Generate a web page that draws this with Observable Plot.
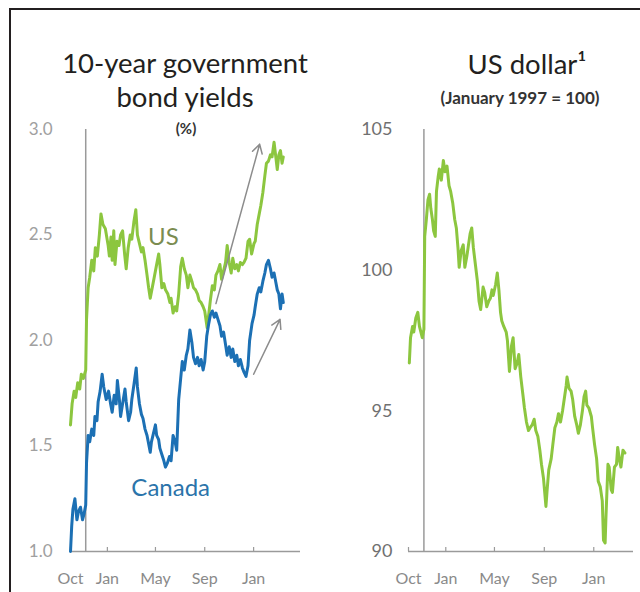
<!DOCTYPE html>
<html><head><meta charset="utf-8">
<script src="https://cdn.jsdelivr.net/npm/d3@7"></script>
<script src="https://cdn.jsdelivr.net/npm/@observablehq/plot@0.6"></script>
<style>
html,body{margin:0;padding:0;background:#fff;}
body{width:640px;height:592px;position:relative;overflow:hidden;font-family:Lato,sans-serif;}
.abs{position:absolute;}
.t{font-size:27.5px;line-height:26px;height:26px;color:#231f20;text-align:center;white-space:nowrap;}
</style></head><body>
<div class="abs" style="left:9px;top:8px;width:720px;height:720px;border-top:2px solid #231f20;border-left:2px solid #231f20;"></div>
<div class="abs t" style="left:0;width:370px;top:50.4px">10-year government</div>
<div class="abs t" style="left:0;width:370px;top:83.6px">bond yields</div>
<div class="abs" style="left:0;width:372px;top:120.4px;font-size:15px;line-height:16px;font-weight:700;text-align:center;color:#333;">(%)</div>
<div class="abs t" style="left:327px;width:400px;top:51.4px">US dollar¹</div>
<div class="abs" style="left:320px;width:400px;top:88.6px;font-size:17px;line-height:18px;font-weight:700;text-align:center;color:#333;white-space:nowrap;">(January 1997 = 100)</div>
<div id="left" class="abs" style="left:0;top:110px"></div>
<div id="right" class="abs" style="left:320px;top:110px"></div>
<script>
// ---- data ----
const usYield = [
["2016-10-01",1.60],["2016-10-05",1.70],["2016-10-10",1.76],["2016-10-14",1.73],["2016-10-19",1.80],
["2016-10-24",1.77],["2016-10-28",1.84],["2016-11-02",1.82],["2016-11-08",1.86],["2016-11-10",2.10],
["2016-11-14",2.25],["2016-11-18",2.30],["2016-11-23",2.38],["2016-11-28",2.33],["2016-12-02",2.44],
["2016-12-07",2.40],["2016-12-12",2.50],["2016-12-16",2.60],["2016-12-21",2.55],["2016-12-27",2.53],
["2017-01-03",2.45],["2017-01-06",2.40],["2017-01-10",2.49],["2017-01-13",2.38],["2017-01-17",2.52],
["2017-01-20",2.36],["2017-01-25",2.47],["2017-01-30",2.45],["2017-02-03",2.50],["2017-02-08",2.52],
["2017-02-13",2.41],["2017-02-17",2.34],["2017-02-22",2.44],["2017-02-27",2.50],["2017-03-03",2.48],
["2017-03-08",2.56],["2017-03-13",2.62],["2017-03-17",2.50],["2017-03-22",2.46],["2017-03-27",2.42],
["2017-03-31",2.44],["2017-04-05",2.38],["2017-04-10",2.31],["2017-04-14",2.25],["2017-04-18",2.20],
["2017-04-24",2.26],["2017-04-28",2.30],["2017-05-03",2.35],["2017-05-09",2.41],["2017-05-12",2.36],
["2017-05-17",2.25],["2017-05-22",2.27],["2017-05-26",2.24],["2017-06-01",2.22],["2017-06-06",2.18],
["2017-06-09",2.20],["2017-06-14",2.13],["2017-06-19",2.16],["2017-06-23",2.14],["2017-06-28",2.22],
["2017-07-03",2.35],["2017-07-07",2.39],["2017-07-12",2.34],["2017-07-17",2.31],["2017-07-21",2.25],
["2017-07-26",2.31],["2017-07-31",2.28],["2017-08-04",2.25],["2017-08-09",2.24],["2017-08-14",2.22],
["2017-08-18",2.19],["2017-08-23",2.18],["2017-08-28",2.16],["2017-09-01",2.14],["2017-09-07",2.06],
["2017-09-12",2.14],["2017-09-15",2.19],["2017-09-20",2.26],["2017-09-25",2.24],["2017-09-29",2.31],
["2017-10-04",2.33],["2017-10-09",2.36],["2017-10-13",2.29],["2017-10-18",2.33],["2017-10-23",2.37],
["2017-10-27",2.45],["2017-11-01",2.37],["2017-11-06",2.32],["2017-11-10",2.39],["2017-11-15",2.34],
["2017-11-20",2.36],["2017-11-24",2.33],["2017-11-29",2.37],["2017-12-04",2.36],["2017-12-08",2.37],
["2017-12-13",2.39],["2017-12-18",2.47],["2017-12-22",2.48],["2017-12-27",2.41],["2018-01-02",2.46],
["2018-01-05",2.47],["2018-01-10",2.55],["2018-01-15",2.60],["2018-01-19",2.64],["2018-01-24",2.70],
["2018-01-29",2.78],["2018-02-02",2.84],["2018-02-07",2.85],["2018-02-12",2.88],["2018-02-16",2.87],
["2018-02-21",2.94],["2018-02-26",2.86],["2018-03-01",2.81],["2018-03-05",2.88],["2018-03-09",2.90],
["2018-03-13",2.84],["2018-03-16",2.87]
];
const canadaYield = [
["2016-10-01",1.00],["2016-10-04",1.12],["2016-10-07",1.20],["2016-10-12",1.25],["2016-10-17",1.15],
["2016-10-21",1.19],["2016-10-26",1.21],["2016-10-31",1.15],["2016-11-04",1.18],["2016-11-08",1.22],
["2016-11-10",1.42],["2016-11-14",1.55],["2016-11-18",1.52],["2016-11-23",1.58],["2016-11-28",1.55],
["2016-12-01",1.64],["2016-12-06",1.62],["2016-12-09",1.71],["2016-12-14",1.76],["2016-12-19",1.84],
["2016-12-23",1.78],["2016-12-29",1.72],["2017-01-04",1.76],["2017-01-09",1.70],["2017-01-13",1.66],
["2017-01-18",1.74],["2017-01-23",1.70],["2017-01-26",1.81],["2017-01-31",1.72],["2017-02-03",1.64],
["2017-02-08",1.70],["2017-02-14",1.77],["2017-02-17",1.71],["2017-02-23",1.62],["2017-02-28",1.66],
["2017-03-03",1.72],["2017-03-09",1.80],["2017-03-14",1.87],["2017-03-17",1.78],["2017-03-22",1.70],
["2017-03-27",1.65],["2017-03-31",1.63],["2017-04-05",1.58],["2017-04-10",1.55],["2017-04-13",1.52],
["2017-04-18",1.47],["2017-04-21",1.52],["2017-04-26",1.56],["2017-05-01",1.60],["2017-05-04",1.55],
["2017-05-09",1.53],["2017-05-12",1.49],["2017-05-17",1.46],["2017-05-22",1.43],["2017-05-26",1.40],
["2017-05-31",1.42],["2017-06-05",1.45],["2017-06-09",1.43],["2017-06-14",1.55],["2017-06-19",1.52],
["2017-06-23",1.48],["2017-06-28",1.72],["2017-07-03",1.82],["2017-07-07",1.90],["2017-07-12",1.86],
["2017-07-17",1.93],["2017-07-21",1.96],["2017-07-26",2.05],["2017-07-31",1.99],["2017-08-04",1.92],
["2017-08-09",1.89],["2017-08-14",1.92],["2017-08-18",1.88],["2017-08-23",1.91],["2017-08-28",1.86],
["2017-09-01",1.90],["2017-09-06",2.02],["2017-09-11",2.08],["2017-09-15",2.12],["2017-09-20",2.14],
["2017-09-25",2.11],["2017-09-29",2.13],["2017-10-04",2.10],["2017-10-09",2.07],["2017-10-13",2.02],
["2017-10-18",2.04],["2017-10-23",1.98],["2017-10-27",1.93],["2017-11-01",1.97],["2017-11-06",1.92],
["2017-11-10",1.96],["2017-11-15",1.90],["2017-11-20",1.93],["2017-11-24",1.88],["2017-11-29",1.91],
["2017-12-04",1.87],["2017-12-08",1.85],["2017-12-13",1.83],["2017-12-18",1.88],["2017-12-22",2.00],
["2017-12-28",2.08],["2018-01-02",2.12],["2018-01-05",2.16],["2018-01-10",2.22],["2018-01-15",2.25],
["2018-01-19",2.23],["2018-01-24",2.28],["2018-01-29",2.32],["2018-02-02",2.36],["2018-02-07",2.38],
["2018-02-12",2.34],["2018-02-16",2.30],["2018-02-21",2.32],["2018-02-26",2.27],["2018-03-01",2.24],
["2018-03-05",2.22],["2018-03-09",2.15],["2018-03-13",2.22],["2018-03-16",2.18]
];
const usDollar = [
["2016-10-03",96.7],["2016-10-06",97.6],["2016-10-11",98.0],["2016-10-14",97.8],["2016-10-19",98.3],
["2016-10-24",98.5],["2016-10-28",98.0],["2016-11-04",97.6],["2016-11-08",97.9],["2016-11-10",101.2],
["2016-11-14",101.8],["2016-11-18",102.5],["2016-11-22",102.7],["2016-11-25",102.2],["2016-11-29",101.8],
["2016-12-02",101.4],["2016-12-06",101.2],["2016-12-09",102.8],["2016-12-13",103.3],["2016-12-16",103.6],
["2016-12-21",103.2],["2016-12-26",103.9],["2016-12-30",103.5],["2017-01-04",103.7],["2017-01-09",103.0],
["2017-01-13",102.8],["2017-01-18",102.4],["2017-01-23",101.8],["2017-01-27",101.5],["2017-01-31",100.8],
["2017-02-03",100.1],["2017-02-08",100.7],["2017-02-13",100.9],["2017-02-17",100.1],["2017-02-22",100.5],
["2017-02-27",101.0],["2017-03-02",101.3],["2017-03-06",101.5],["2017-03-10",100.8],["2017-03-15",100.2],
["2017-03-20",99.6],["2017-03-24",98.9],["2017-03-28",98.6],["2017-04-03",99.4],["2017-04-07",99.2],
["2017-04-12",98.7],["2017-04-17",98.9],["2017-04-21",99.0],["2017-04-25",99.3],["2017-04-28",99.1],
["2017-05-04",99.5],["2017-05-08",99.9],["2017-05-12",99.3],["2017-05-16",98.5],["2017-05-19",98.2],
["2017-05-24",98.0],["2017-05-30",97.8],["2017-06-02",97.5],["2017-06-07",96.4],["2017-06-12",97.3],
["2017-06-16",97.6],["2017-06-21",96.5],["2017-06-26",96.7],["2017-06-30",97.0],["2017-07-05",96.2],
["2017-07-10",95.6],["2017-07-14",95.1],["2017-07-19",94.6],["2017-07-24",94.3],["2017-07-28",94.4],
["2017-08-02",94.5],["2017-08-07",94.7],["2017-08-11",94.3],["2017-08-16",94.1],["2017-08-21",93.6],
["2017-08-25",93.1],["2017-08-30",92.6],["2017-09-05",91.6],["2017-09-08",92.2],["2017-09-12",92.9],
["2017-09-18",93.3],["2017-09-22",93.8],["2017-09-27",94.4],["2017-10-02",94.6],["2017-10-06",94.9],
["2017-10-11",94.6],["2017-10-16",95.0],["2017-10-20",95.4],["2017-10-25",95.9],["2017-10-27",96.2],
["2017-11-01",95.8],["2017-11-06",95.7],["2017-11-10",95.4],["2017-11-15",94.8],["2017-11-20",94.5],
["2017-11-24",94.2],["2017-11-29",94.5],["2017-12-04",95.0],["2017-12-08",95.5],["2017-12-12",95.7],
["2017-12-15",95.2],["2017-12-20",95.1],["2017-12-26",94.8],["2017-12-29",94.4],["2018-01-03",93.8],
["2018-01-08",93.3],["2018-01-12",92.5],["2018-01-17",92.3],["2018-01-22",91.8],["2018-01-25",90.4],
["2018-01-29",90.3],["2018-01-31",91.2],["2018-02-05",93.1],["2018-02-08",93.0],["2018-02-13",92.2],
["2018-02-16",92.1],["2018-02-21",93.0],["2018-02-26",93.1],["2018-03-01",93.7],["2018-03-06",93.2],
["2018-03-09",93.0],["2018-03-14",93.6],["2018-03-19",93.5]
];
const xTickDates = ["2016-10-01","2017-01-01","2017-05-01","2017-09-01","2018-01-01"];
const xTickLabels = ["Oct","Jan","May","Sep","Jan"];
const yieldTicks = [1.0,1.5,2.0,2.5,3.0];
const dollarTicks = [90,95,100,105];
const electionDate = ["2016-11-08"];
const yieldArrows = [
  {x1:"2017-09-29", y1:2.175, x2:"2018-01-16", y2:2.93},
  {x1:"2018-01-01", y1:1.84, x2:"2018-03-08", y2:2.10}
];
const seriesLabels = [
  {text:"US", x:"2017-05-21", y:2.49, color:"#7b8c50"},
  {text:"Canada", x:"2017-06-08", y:1.30, color:"#2b74aa"}
];

// ---- helpers ----
const parse = d3.utcParse("%Y-%m-%d");
const toRows = arr => arr.map(([d, v]) => ({date: parse(d), value: v}));
const tickDates = xTickDates.map(parse);
const tickLabelMap = new Map(tickDates.map((d, i) => [+d, xTickLabels[i]]));
const axisGray = "#9a9a9a";

function panelMarks(yMin) {
  return [
    Plot.axisX(tickDates, {tickSize: 0, tickPadding: 21, tickFormat: d => tickLabelMap.get(+d), color: "#8a8a8a", fill: "#8a8a8a", fontSize: 16, label: null}),
    Plot.ruleY([yMin], {stroke: axisGray, strokeWidth: 1.5}),
    Plot.ruleX(tickDates, {y1: yMin, y2: yMin, insetTop: -4, stroke: axisGray, strokeWidth: 1.2}),
    Plot.ruleX(electionDate.map(parse), {stroke: axisGray, strokeWidth: 1.5})
  ];
}

const left = Plot.plot({
  width: 320, height: 482,
  marginLeft: 70, marginRight: 20, marginTop: 19, marginBottom: 41,
  style: {fontFamily: "Lato, sans-serif", fontSize: "16px", background: "transparent", overflow: "visible"},
  x: {type: "utc", domain: [parse("2016-10-01"), parse("2018-04-28")]},
  y: {domain: [1, 3]},
  marks: [
    Plot.axisY(yieldTicks, {tickSize: 0, tickPadding: 18, tickFormat: d => d.toFixed(1), color: "#a0a0a0", fill: "#a0a0a0", fontSize: 17, label: null}),
    ...panelMarks(1),
    Plot.line(toRows(usYield), {x: "date", y: "value", stroke: "#8cc63f", strokeWidth: 3, strokeLinejoin: "round"}),
    Plot.line(toRows(canadaYield), {x: "date", y: "value", stroke: "#1c70b4", strokeWidth: 3, strokeLinejoin: "round"}),
    Plot.arrow(yieldArrows, {x1: d => parse(d.x1), y1: "y1", x2: d => parse(d.x2), y2: "y2", stroke: "#8c8c8c", strokeWidth: 1.5, headLength: 10}),
    Plot.text(seriesLabels, {x: d => parse(d.x), y: "y", text: "text", fill: "color", fontSize: 24})
  ]
});
document.getElementById("left").append(left);

const right = Plot.plot({
  width: 320, height: 482,
  marginLeft: 88, marginRight: 7, marginTop: 19, marginBottom: 41,
  style: {fontFamily: "Lato, sans-serif", fontSize: "16px", background: "transparent", overflow: "visible"},
  x: {type: "utc", domain: [parse("2016-10-01"), parse("2018-04-09")]},
  y: {domain: [90, 105]},
  marks: [
    Plot.axisY(dollarTicks, {tickSize: 0, tickPadding: 16, color: "#707070", fill: "#707070", fontSize: 18, label: null}),
    ...panelMarks(90),
    Plot.line(toRows(usDollar), {x: "date", y: "value", stroke: "#8cc63f", strokeWidth: 3, strokeLinejoin: "round"})
  ]
});
document.getElementById("right").append(right);
</script>
</body></html>
